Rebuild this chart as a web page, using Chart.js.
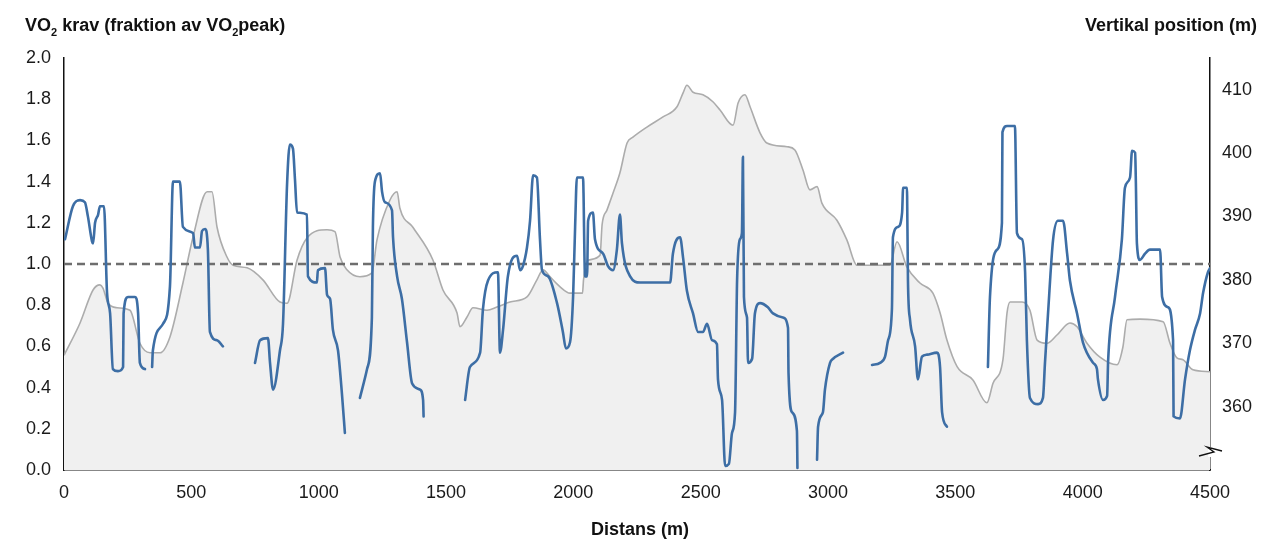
<!DOCTYPE html>
<html>
<head>
<meta charset="utf-8">
<script src="https://cdn.jsdelivr.net/npm/chart.js@4.4.1/dist/chart.umd.min.js"></script>
<style>
  html, body { margin: 0; padding: 0; background: #fff; }
  #wrap { width: 1287px; height: 540px; }
</style>
</head>
<body>
<div id="wrap"><canvas id="chart" width="1287" height="540"></canvas></div>
<script>
// Elevation profile (right axis, m)
const elevDist = [0,63,114,141,153,173,208,259,298,338,377,416,467,507,562,581,601,640,664,719,
  781,848,876,915,954,1033,1064,1084,1111,1162,1209,1229,1280,1308,1319,1370,1449,1488,1543,1555,
  1582,1606,1661,1700,1751,1818,1857,1881,1908,1948,1987,2036,2040,2058,2105,2113,2132,2156,2183,2211,
  2234,2289,2352,2407,2431,2446,2470,2509,2548,2576,2627,2647,2674,2694,2733,2760,2839,2870,2902,2929,
  2957,2976,3035,3074,3114,3243,3271,3310,3361,3412,3440,3467,3507,3569,3624,3648,3687,3703,3715,3762,
  3793,3821,3860,3899,3950,3978,4017,4068,4135,4158,4174,4225,4316,4343,4370,4394,4433,4500];
const elevValues = [368.1,373.2,378.4,379.2,378.7,376.3,375.6,375.2,370.0,368.5,368.5,371.0,379.5,386.8,393.9,393.9,388.3,383.6,382.3,381.9,
  380.0,376.5,376.3,383.1,386.6,387.9,387.6,383.6,381.6,380.5,381.1,386.3,392.6,393.9,391.3,388.3,383.1,378.4,374.8,372.6,
  374.1,375.6,375.2,375.7,376.5,377.3,380.0,381.6,380.5,378.9,377.9,377.9,380.0,383.1,383.9,388.7,391.0,393.7,396.9,401.6,
  402.5,404.1,405.7,407.3,409.5,410.7,409.6,409.2,408.1,406.8,404.4,407.9,409.2,407.3,403.2,401.6,401.0,400.5,397.3,394.2,
  394.7,392.1,389.4,386.3,382.3,382.3,386.0,382.0,379.5,377.9,374.8,370.5,366.3,364.2,360.6,363.7,367.4,374.8,376.5,376.5,
  375.2,370.5,370.0,371.3,373.2,372.6,370.0,367.8,366.6,369.4,373.7,373.8,373.4,370.0,367.7,367.4,365.8,365.5];

// VO2 demand (left axis, fraction of VO2peak); null = gap in the trace
const vo2Dist = [
  4,35,63,82,94,110,114,122,134,141,157,169,181,192,212,232,234,251,279,291,298,318, 330,
  346,349,389,416,428,455,467,507,514,534,542,554,565,573,601,624, 690,
  750,770,801,809,821,848,860,876,887,899,907,915,954,958,993,997,1025,1033,1045,1056,1076,1092,1103, 1130,
  1162,1190,1209,1213,1221,1241,1249,1260,1288,1292,1308,1327,1347,1367,1398,1410,1412, 1500,
  1575,1594,1634,1645,1665,1704,1712,1724,1743,1779,1791,1802,1818,1830,1842,1857,1869,1877,1901,1936,
  1959,1971,1987,1999,2007,2014,2038,2046,2054,2058,2077,2085,2117,2136,2156,2171,2183,2191,2223,2262,
  2380,2391,2419,2431,2446,2470,2490,2509,2525,2545,2564,2568,2584,2596,2611,2623,2635,2643,2654,2662,
  2666,2670,2682,2686,2702,2713,2733,2764,2784,2823,2843,2845,2859,2878,2880, 2920,
  2957,2961,2980,2988,3008,3020,3059, 3110,
  3173,3204,3224,3236,3251,3255,3275,3291,3295,3310,3312,3314,3322,3342,3353,3369,3389,3428,3440,3448,3467, 3550,
  3628,3636,3664,3683,3685,3703,3734,3742,3762,3774,3781,3793,3825,3844,3852,3864,3884,3903,3923,3939,
  3950,3978,4001,4041,4056,4060,4080,4096,4100,4127,4154,4166,4186,4194,4206,4209,4213,4225,4245,4264,
  4304,4312,4335,4355,4357,4382,4402,4421,4441,4461,4473,4492,4500];
const vo2Values = [
  1.12,1.28,1.31,1.30,1.23,1.11,1.10,1.20,1.24,1.28,1.28,0.86,0.76,0.49,0.48,0.50,0.76,0.84,0.84,0.76,0.52,0.49, null,
  0.50,0.58,0.71,0.89,1.40,1.40,1.18,1.15,1.08,1.08,1.16,1.17,1.07,0.67,0.63,0.60, null,
  0.52,0.63,0.64,0.52,0.39,0.58,0.71,1.39,1.58,1.56,1.41,1.25,1.24,0.94,0.91,0.97,0.98,0.85,0.83,0.68,0.58,0.36,0.18, null,
  0.35,0.49,0.74,1.18,1.40,1.44,1.35,1.30,1.26,1.13,0.94,0.83,0.62,0.42,0.39,0.34,0.26, null,
  0.34,0.50,0.57,0.78,0.92,0.96,0.57,0.68,0.94,1.04,0.97,0.99,1.08,1.21,1.43,1.42,1.12,0.97,0.94,0.81,
  0.67,0.59,0.62,0.84,1.18,1.42,1.42,0.94,0.94,1.21,1.25,1.12,1.05,0.99,0.97,1.07,1.24,1.10,0.94,0.91,
  0.91,1.05,1.13,1.03,0.87,0.76,0.67,0.67,0.71,0.63,0.61,0.44,0.34,0.02,0.03,0.18,0.28,0.92,1.12,1.15,
  1.52,0.84,0.74,0.52,0.54,0.76,0.81,0.79,0.76,0.74,0.69,0.47,0.28,0.19,0.01, null,
  0.05,0.21,0.28,0.39,0.52,0.54,0.57, null,
  0.51,0.52,0.55,0.63,0.78,1.13,1.18,1.25,1.37,1.37,1.17,0.92,0.73,0.60,0.44,0.55,0.56,0.57,0.50,0.28,0.21, null,
  0.50,0.84,1.07,1.20,1.64,1.67,1.67,1.15,1.12,0.96,0.63,0.35,0.32,0.35,0.52,0.76,1.12,1.21,1.21,1.05,
  0.92,0.76,0.62,0.52,0.49,0.44,0.34,0.36,0.53,0.84,1.12,1.37,1.42,1.55,1.54,1.39,1.10,1.02,1.05,1.07,
  1.07,0.84,0.79,0.63,0.26,0.25,0.44,0.58,0.68,0.76,0.86,0.96,0.98];

// Reference line at VO2peak
const refDist = [0, 4500];
const refValues = [1.0, 1.0];

const leftTicks = [0, 0.2, 0.4, 0.6, 0.8, 1.0, 1.2, 1.4, 1.6, 1.8, 2.0];
const rightTicks = [360, 370, 380, 390, 400, 410];
const xTicks = [0, 500, 1000, 1500, 2000, 2500, 3000, 3500, 4000, 4500];

const FONT = '"Liberation Sans", Arial, Helvetica, sans-serif';

function toPoints(xs, ys) {
  return xs.map((x, i) => ({ x: x, y: ys[i] }));
}

// titles with subscripts + axis break mark
const decorPlugin = {
  id: 'decor',
  afterDraw(chart) {
    const ctx = chart.ctx;
    ctx.save();
    ctx.fillStyle = '#111';
    ctx.textBaseline = 'alphabetic';

    // left title
    const parts = [['VO', 18], ['2', 11, 5], [' krav (fraktion av VO', 18], ['2', 11, 5], ['peak)', 18]];
    let x = 25;
    parts.forEach((p) => {
      ctx.font = 'bold ' + p[1] + 'px ' + FONT;
      ctx.textAlign = 'left';
      ctx.fillText(p[0], x, 31 + (p[2] || 0));
      x += ctx.measureText(p[0]).width;
    });

    // right title
    ctx.font = 'bold 18px ' + FONT;
    ctx.textAlign = 'right';
    ctx.fillText('Vertikal position (m)', 1257, 31);

    // x title
    ctx.textAlign = 'center';
    ctx.fillText('Distans (m)', 640, 535);

    // break mark on the right axis
    const ax = chart.scales.y2.left;
    ctx.fillStyle = '#fff';
    ctx.fillRect(ax - 2, 447, 4, 10);
    ctx.strokeStyle = '#111';
    ctx.lineWidth = 1.3;
    ctx.beginPath();
    ctx.moveTo(ax - 11, 456);
    ctx.lineTo(ax + 4, 452);
    ctx.lineTo(ax - 3, 447);
    ctx.lineTo(ax + 12, 451);
    ctx.stroke();
    ctx.restore();
  }
};

new Chart(document.getElementById('chart'), {
  type: 'line',
  data: {
    datasets: [
      {
        label: 'VO2 krav',
        data: toPoints(vo2Dist, vo2Values),
        yAxisID: 'y',
        borderColor: '#3d6ea5',
        borderWidth: 2.6,
        borderCapStyle: 'round',
        borderJoinStyle: 'round',
        pointRadius: 0,
        cubicInterpolationMode: 'monotone',
        spanGaps: false,
        fill: false,
        order: 1
      },
      {
        label: '1.0',
        data: toPoints(refDist, refValues),
        yAxisID: 'y',
        borderColor: '#6e6e6e',
        borderWidth: 2.6,
        borderDash: [8, 5],
        pointRadius: 0,
        fill: false,
        order: 2
      },
      {
        label: 'Vertikal position',
        data: toPoints(elevDist, elevValues),
        yAxisID: 'y2',
        borderColor: '#acacac',
        borderWidth: 1.6,
        backgroundColor: '#f0f0f0',
        fill: 'start',
        pointRadius: 0,
        cubicInterpolationMode: 'monotone',
        order: 3
      }
    ]
  },
  options: {
    responsive: false,
    animation: false,
    devicePixelRatio: 1,
    layout: { padding: { top: 58, left: 0, right: 0, bottom: 0 } },
    plugins: {
      legend: { display: false },
      tooltip: { enabled: false },
      title: { display: false }
    },
    scales: {
      x: {
        type: 'linear',
        min: 0,
        max: 4500,
        grid: { display: false, drawTicks: false },
        border: { display: true, color: '#111', width: 1.5 },
        afterBuildTicks: (s) => { s.ticks = xTicks.map((v) => ({ value: v })); },
        afterFit: (s) => { s.height = 70; },
        ticks: {
          padding: 12,
          maxRotation: 0,
          color: '#1a1a1a',
          font: { family: FONT, size: 18 },
          callback: (v) => String(v)
        }
      },
      y: {
        position: 'left',
        min: 0,
        max: 2,
        grid: { display: false, drawTicks: false },
        border: { display: true, color: '#111', width: 1.5 },
        afterBuildTicks: (s) => { s.ticks = leftTicks.map((v) => ({ value: v })); },
        afterFit: (s) => { s.width = 64; },
        ticks: {
          padding: 13,
          color: '#1a1a1a',
          font: { family: FONT, size: 18 },
          callback: (v) => Number(v).toFixed(1)
        }
      },
      y2: {
        position: 'right',
        min: 350,
        max: 415,
        grid: { display: false, drawTicks: false },
        border: { display: true, color: '#111', width: 1.5 },
        afterBuildTicks: (s) => { s.ticks = rightTicks.map((v) => ({ value: v })); },
        afterFit: (s) => { s.width = 77; },
        ticks: {
          padding: 12,
          color: '#1a1a1a',
          font: { family: FONT, size: 18 },
          callback: (v) => String(v)
        }
      }
    }
  },
  plugins: [decorPlugin]
});
</script>
</body>
</html>
